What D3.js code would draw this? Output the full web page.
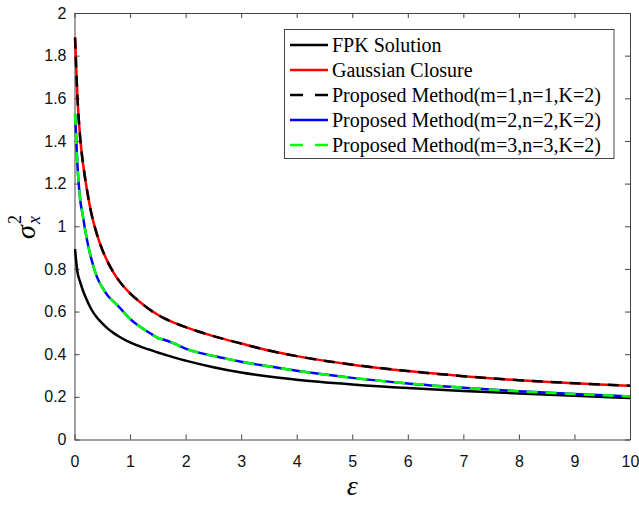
<!DOCTYPE html>
<head>
  <meta charset="utf-8">
  <script src="https://d3js.org/d3.v7.min.js"></script>
  <style>
    body { margin:0; background:white; }
    .tick text { font-family: "Liberation Sans", Arial, sans-serif; font-size: 16px; fill: #111; }
    .axis path, .axis line { stroke: #444; }
    .leg text { font-family: "Liberation Serif", "Times New Roman", serif; font-size: 20px; fill: #000; }
  </style>
</head>
<body>
  <script>
    const W = 639, H = 505;
    const margin = {top: 13, right: 9, bottom: 65.5, left: 74.5},
        width = W - margin.left - margin.right,
        height = H - margin.top - margin.bottom;

    // epsilon grid
    const eps = [0.01, 0.05, 0.1, 0.15, 0.2, 0.3, 0.4, 0.5, 0.6, 0.7, 0.8, 1.0, 1.2, 1.4, 1.5, 1.6, 1.8,
                 2.0, 2.5, 3.0, 3.5, 4, 5, 6, 7, 8, 9, 10];
    const fpk      = [0.893, 0.79, 0.74, 0.70, 0.667, 0.612, 0.573, 0.545, 0.52, 0.50, 0.483, 0.455, 0.434, 0.417, 0.408, 0.40, 0.384,
                      0.37, 0.339, 0.314, 0.295, 0.280, 0.258, 0.241, 0.228, 0.216, 0.205, 0.195];
    const gaussian = [1.885, 1.62, 1.42, 1.30, 1.21, 1.065, 0.965, 0.89, 0.832, 0.784, 0.745, 0.685, 0.64, 0.601, 0.585, 0.57, 0.547,
                      0.527, 0.485, 0.45, 0.417, 0.391, 0.351, 0.321, 0.297, 0.278, 0.264, 0.252];
    const prop1    = [1.885, 1.62, 1.42, 1.30, 1.21, 1.065, 0.965, 0.89, 0.832, 0.784, 0.745, 0.685, 0.64, 0.601, 0.585, 0.57, 0.547,
                      0.527, 0.485, 0.45, 0.417, 0.391, 0.351, 0.321, 0.297, 0.278, 0.264, 0.252];
    const prop2    = [1.527, 1.30, 1.13, 1.05, 0.97, 0.85, 0.765, 0.713, 0.674, 0.648, 0.622, 0.566, 0.525, 0.492, 0.476, 0.469, 0.450,
                      0.426, 0.392, 0.365, 0.343, 0.322, 0.289, 0.263, 0.243, 0.226, 0.213, 0.202];
    const prop3    = [1.527, 1.30, 1.13, 1.05, 0.97, 0.85, 0.765, 0.713, 0.674, 0.648, 0.622, 0.566, 0.525, 0.492, 0.476, 0.469, 0.450,
                      0.426, 0.392, 0.365, 0.343, 0.322, 0.289, 0.263, 0.243, 0.226, 0.213, 0.202];

    const xTicks = [0, 1, 2, 3, 4, 5, 6, 7, 8, 9, 10];
    const yTicks = [0, 0.2, 0.4, 0.6, 0.8, 1, 1.2, 1.4, 1.6, 1.8, 2];

    const series = [
      {name: "FPK Solution", values: fpk, color: "#000000", dash: null},
      {name: "Gaussian Closure", values: gaussian, color: "#ff0000", dash: null},
      {name: "Proposed Method(m=1,n=1,K=2)", values: prop1, color: "#000000", dash: "11,8"},
      {name: "Proposed Method(m=2,n=2,K=2)", values: prop2, color: "#0000ff", dash: null},
      {name: "Proposed Method(m=3,n=3,K=2)", values: prop3, color: "#00ff00", dash: "11,8"}
    ];

    const svg = d3.select("body").append("svg")
        .attr("width", W)
        .attr("height", H);
    const g = svg.append("g")
        .attr("transform", "translate(" + margin.left + "," + margin.top + ")");

    const x = d3.scaleLinear().domain([0, 10]).range([0, width]);
    const y = d3.scaleLinear().domain([0, 2]).range([height, 0]);

    // axes (box with inward ticks on all sides)
    g.append("g").attr("class", "axis")
        .attr("transform", "translate(0," + height + ")")
        .call(d3.axisBottom(x).tickValues(xTicks).tickSizeInner(-5).tickSizeOuter(0).tickPadding(16).tickFormat(d3.format("d")));
    g.append("g").attr("class", "axis")
        .call(d3.axisLeft(y).tickValues(yTicks).tickSizeInner(-5).tickSizeOuter(0).tickPadding(8).tickFormat(d => d3.format("")(+d.toFixed(1))));
    g.append("g").attr("class", "axis")
        .call(d3.axisTop(x).tickValues(xTicks).tickSizeInner(-5).tickSizeOuter(0).tickFormat(""));
    g.append("g").attr("class", "axis")
        .attr("transform", "translate(" + width + ",0)")
        .call(d3.axisRight(y).tickValues(yTicks).tickSizeInner(-5).tickSizeOuter(0).tickFormat(""));

    const line = d3.line()
        .x((d, i) => x(eps[i]))
        .y(d => y(d))
        .curve(d3.curveMonotoneX);

    series.forEach(s => {
      g.append("path")
          .datum(s.values)
          .attr("fill", "none")
          .attr("stroke", s.color)
          .attr("stroke-width", 2.5)
          .attr("stroke-dasharray", s.dash)
          .attr("d", line);
    });

    // legend
    const leg = svg.append("g").attr("class", "leg");
    leg.append("rect")
        .attr("x", 284.5).attr("y", 29.5)
        .attr("width", 329.5).attr("height", 129)
        .attr("fill", "white").attr("stroke", "#444").attr("stroke-width", 1);
    series.forEach((s, i) => {
      const yy = 45 + i * 25;
      leg.append("line")
          .attr("x1", 290).attr("x2", 328).attr("y1", yy).attr("y2", yy)
          .attr("stroke", s.color).attr("stroke-width", 2.5)
          .attr("stroke-dasharray", s.dash ? "13,12" : null);
      leg.append("text")
          .attr("x", 332).attr("y", yy)
          .attr("dy", "0.33em")
          .text(s.name);
    });

    // axis labels
    svg.append("text")
        .attr("x", margin.left + width / 2).attr("y", 495)
        .attr("text-anchor", "middle")
        .style("font-family", "'Liberation Serif', serif")
        .style("font-style", "italic")
        .style("font-size", "28px")
        .text("ε");

    const yl = svg.append("g")
        .attr("transform", "translate(35,239) rotate(-90)")
        .style("font-family", "'Liberation Serif', serif")
        .style("font-style", "italic");
    yl.append("text").attr("x", 0).attr("y", 0).style("font-size", "28px").text("σ");
    yl.append("text").attr("x", 15).attr("y", 5).style("font-size", "18px").text("x");
    yl.append("text").attr("x", 15).attr("y", -14).style("font-size", "18px").style("font-style", "normal").text("2");
  </script>
</body>
